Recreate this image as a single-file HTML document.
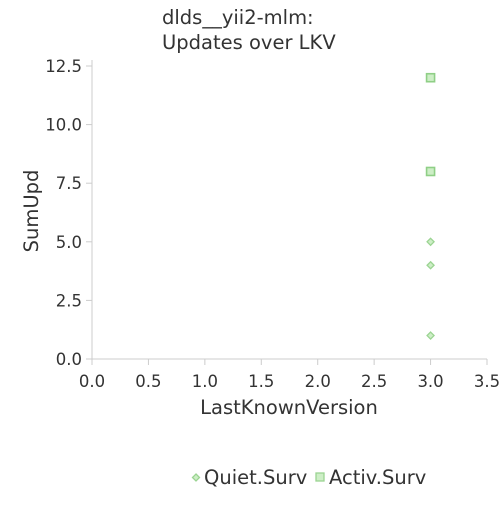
<!DOCTYPE html>
<html><head><meta charset="utf-8"><style>
body{margin:0;background:#fff;}
svg text{font-family:"DejaVu Sans","Liberation Sans",sans-serif;fill:#333;}
</style></head><body>
<svg id="chart" width="500" height="500" viewBox="0 0 500 500" xmlns="http://www.w3.org/2000/svg">
<text x="162" y="24" font-size="19.5">dlds__yii2-mlm:</text>
<text x="162" y="49" font-size="19.5">Updates over LKV</text>
<g id="axes"></g>
<g id="marks"></g>
<text x="289" y="414" font-size="19.5" text-anchor="middle">LastKnownVersion</text>
<text transform="translate(38,211) rotate(-90)" font-size="19.5" text-anchor="middle">SumUpd</text>
<g>
<path d="M196 474 l3.5 3.5 l-3.5 3.5 l-3.5 -3.5z" fill="#cdeec6" stroke="#9bd492" stroke-width="1.3"/>
<text x="204" y="484" font-size="19.5">Quiet.Surv</text>
<rect x="316" y="473" width="8" height="8" fill="#cdeec6" stroke="#9bd492" stroke-width="1.3"/>
<text x="329" y="484" font-size="19.5">Activ.Surv</text>
</g>
</svg>
<script>
const xTicks=[0,0.5,1,1.5,2,2.5,3,3.5];
const yTicks=[0,2.5,5,7.5,10,12.5];
const yTickLabels=["0.0","2.5","5.0","7.5","10.0","12.5"];
const quietX=[3,3,3];
const quietY=[5,4,1];
const activX=[3,3];
const activY=[12,8];
const NS="http://www.w3.org/2000/svg";
const X=v=>92+v*(487-92)/3.5;
const Y=v=>359-v*(359-66)/12.5;
function mk(t,a,p){const e=document.createElementNS(NS,t);for(const k in a)e.setAttribute(k,a[k]);p.appendChild(e);return e;}
const ax=document.getElementById('axes'),mg=document.getElementById('marks');
let l=mk('line',{x1:92,y1:60,x2:92,y2:359,stroke:'#ccc'},ax);


l=mk('line',{x1:92,y1:359,x2:487,y2:359,stroke:'#ccc'},ax);


xTicks.forEach(v=>{
 const t=mk('line',{x1:X(v),y1:359,x2:X(v),y2:365,stroke:'#ccc'},ax);
 
 
 const s=mk('text',{x:X(v),y:387,'font-size':16.5,'text-anchor':'middle'},ax);
 s.textContent=v.toFixed(1);
 
 
});
yTicks.forEach((v,i)=>{
 const t=mk('line',{x1:86,y1:Y(v),x2:92,y2:Y(v),stroke:'#ccc'},ax);
 
 
 const s=mk('text',{x:82,y:Y(v)+6,'font-size':16.5,'text-anchor':'end'},ax);
 s.textContent=yTickLabels[i];
 
 
});
quietX.forEach((v,i)=>{
 const cx=X(v),cy=Y(quietY[i]);
 const p=mk('path',{d:`M${cx} ${cy-3.5} l3.5 3.5 l-3.5 3.5 l-3.5 -3.5z`,fill:'#cdeec6',stroke:'#9bd492','stroke-width':1.3},mg);
 
 
});
activX.forEach((v,i)=>{
 const cx=X(v),cy=Y(activY[i]);
 const r=mk('rect',{x:cx-4,y:cy-4,width:8,height:8,fill:'#cdeec6',stroke:'#8fcf86','stroke-width':1.6},mg);
 
 
});
</script>
</body></html>
